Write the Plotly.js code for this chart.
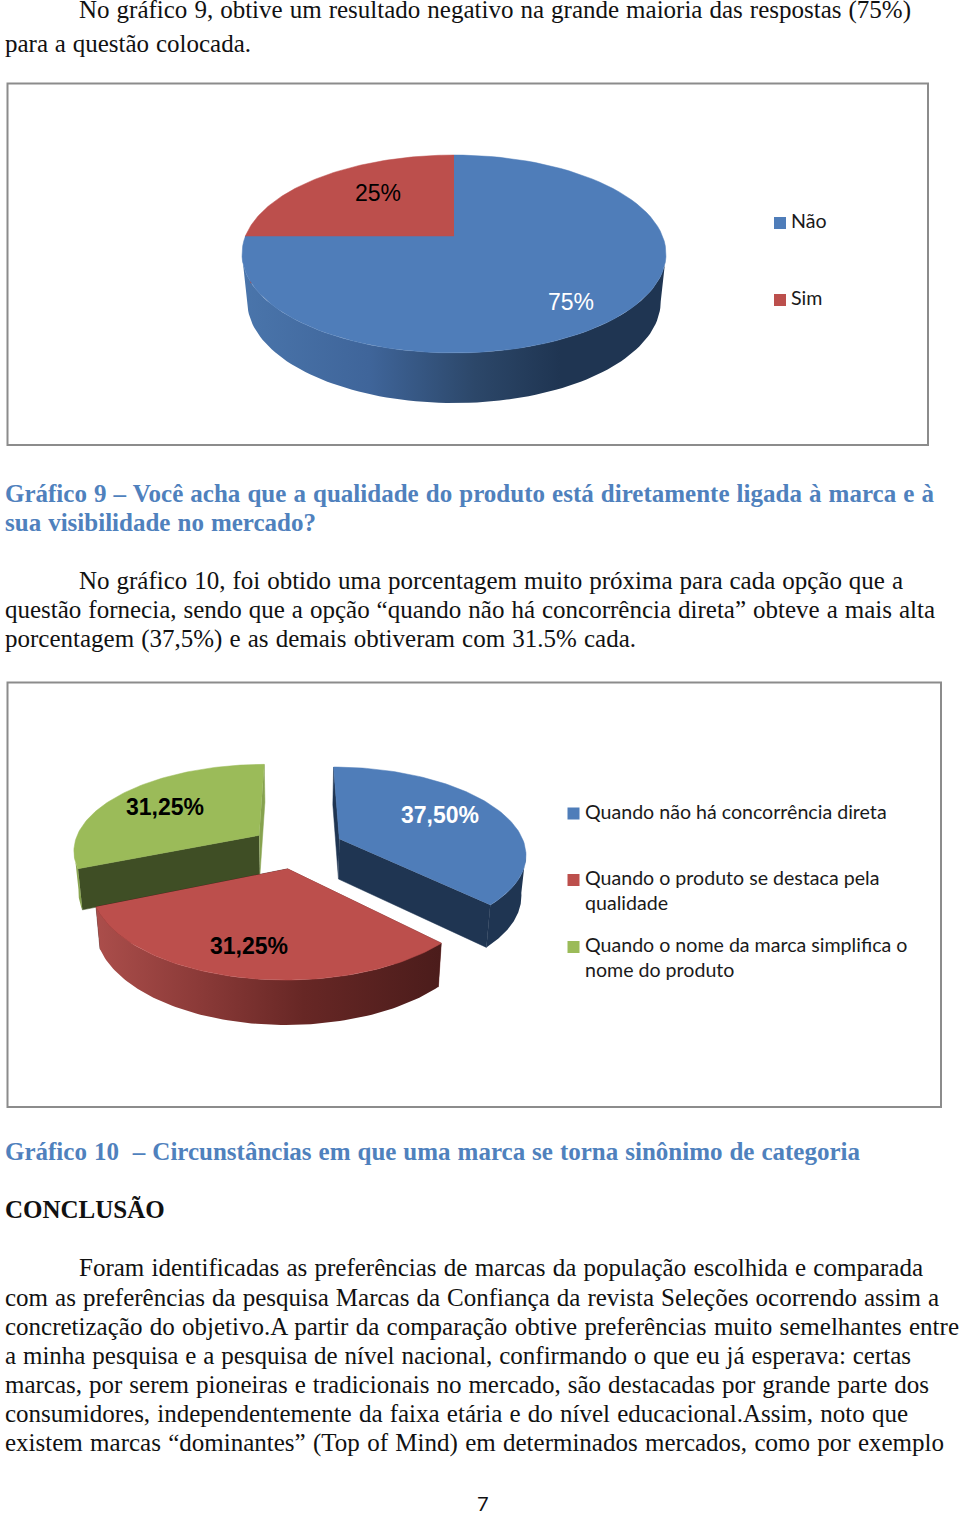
<!DOCTYPE html>
<html lang="pt">
<head>
<meta charset="utf-8">
<title>Gráficos 9 e 10</title>
<script src="https://cdn.plot.ly/plotly-3.0.1.min.js"></script>
<style>
html,body{margin:0;padding:0;background:#fff;width:960px;height:1514px;overflow:hidden}
#page{position:relative;width:960px;height:1514px}
.ln{position:absolute;white-space:pre;font-family:"Liberation Serif",serif;font-size:25px;line-height:20px;height:20px;color:#111}
.cap{font-weight:bold;color:#4f81bd}
.hd{font-weight:bold;color:#111}
.pn{font-family:Lato,sans-serif;font-size:20px;color:#111}
.plot{position:absolute}
</style>
</head>
<body>
<div id="page">
  <div id="chart9" class="plot"></div>
  <div id="chart10" class="plot"></div>
</div>
<script>
// ---- chart data ----
const chart9Labels = ['Não', 'Sim'];
const chart9Values = [75, 25];
const chart10Labels = [
  'Quando não há concorrência direta',
  'Quando o produto se destaca pela<br>qualidade',
  'Quando o nome da marca simplifica o<br>nome do produto'
];
const chart10Values = [37.5, 31.25, 31.25];
const blue = '#4f7db9', red = '#bc4f4c', green = '#9bbb59';

// ---- page text: [text, left, right, middle y, class] ----
const lines = [
  ['No gráfico 9, obtive um resultado negativo na grande maioria das respostas (75%)',79,911,10,''],
  ['para a questão colocada.',5,251,44,''],
  ['Gráfico 9 – Você acha que a qualidade do produto está diretamente ligada à marca e à',5,934,494,'cap'],
  ['sua visibilidade no mercado?',5,316,523,'cap'],
  ['No gráfico 10, foi obtido uma porcentagem muito próxima para cada opção que a',79,903,581,''],
  ['questão fornecia, sendo que a opção “quando não há concorrência direta” obteve a mais alta',5,935,610,''],
  ['porcentagem (37,5%) e as demais obtiveram com 31.5% cada.',5,636,639,''],
  ['Gráfico 10  – Circunstâncias em que uma marca se torna sinônimo de categoria',5,860,1152,'cap'],
  ['CONCLUSÃO',5,165,1210,'hd'],
  ['Foram identificadas as preferências de marcas da população escolhida e comparada',79,923,1268,''],
  ['com as preferências da pesquisa Marcas da Confiança da revista Seleções ocorrendo assim a',5,939,1298,''],
  ['concretização do objetivo.A partir da comparação obtive preferências muito semelhantes entre',5,959,1327,''],
  ['a minha pesquisa e a pesquisa de nível nacional, confirmando o que eu já esperava: certas',5,911,1356,''],
  ['marcas, por serem pioneiras e tradicionais no mercado, são destacadas por grande parte dos',5,929,1385,''],
  ['consumidores, independentemente da faixa etária e do nível educacional.Assim, noto que',5,908,1414,''],
  ['existem marcas “dominantes” (Top of Mind) em determinados mercados, como por exemplo',5,944,1443,'']
];
const page = document.getElementById('page');
lines.forEach(function (l) {
  const d = document.createElement('div');
  d.className = 'ln ' + l[4];
  d.textContent = l[0];
  d.style.left = l[1] + 'px';
  d.style.top = (l[3] - 10) + 'px';
  page.appendChild(d);
  const w = d.getBoundingClientRect().width;
  const gaps = (l[0].match(/ /g) || []).length;
  if (gaps) d.style.wordSpacing = ((l[2] - l[1] - w) / gaps) + 'px';
});
const pn = document.createElement('div');
pn.className = 'ln pn'; pn.textContent = '7';
pn.style.left = '477px'; pn.style.top = '1493px';
page.appendChild(pn);

// ---- 3D pie built from the values, drawn as filled scatter traces ----
function pieTraces(values, labels, o) {
  const total = values.reduce(function (a, b) { return a + b; }, 0);
  const P = function (U, V, low) {
    const den = 1 - o.p * V;
    const X = o.R * U / den, Y = o.k * V / den;
    if (!low) return [o.cx + X, o.cy + Y];
    return [o.cx + X * o.sx, o.cy + Y + o.d0 + o.dc * Y];
  };
  const walls = [], tops = [];
  const visFrom = Math.acos(-o.p), visTo = 2 * Math.PI - visFrom;
  let acc = 0;
  const slices = values.map(function (v, i) {
    const a0 = acc / total * 2 * Math.PI; acc += v;
    const a1 = acc / total * 2 * Math.PI;
    const mid = (a0 + a1) / 2;
    return { i: i, a0: a0, a1: a1, ou: o.explode * Math.sin(mid), ov: -o.explode * Math.cos(mid) };
  });
  const arc = function (s, from, to, low) {
    const out = [], n = 90;
    for (let j = 0; j <= n; j++) {
      const t = from + (to - from) * j / n;
      out.push(P(s.ou + Math.sin(t), s.ov - Math.cos(t), low));
    }
    return out;
  };
  const poly = function (pts, extra, name) {
    return Object.assign({
      type: 'scatter', mode: 'lines', x: pts.map(function (q) { return q[0]; }),
      y: pts.map(function (q) { return q[1]; }), fill: 'toself', line: { width: 0 },
      showlegend: false, hoverinfo: 'skip', name: name
    }, extra);
  };
  o.order.forEach(function (i) {
    const s = slices[i], st = o.styles[i];
    const name = labels[i].replace('<br>', ' ');
    const apexT = P(s.ou, s.ov, false), apexB = P(s.ou, s.ov, true);
    const tA = arc(s, s.a0, s.a1, false), bA = arc(s, s.a0, s.a1, true);
    // flat cut faces first, curved side over them
    walls.push(poly([apexT, tA[0], bA[0], apexB], { fillcolor: st.start, line: { width: 0.5, color: st.start } }, name));
    walls.push(poly([apexT, tA[90], bA[90], apexB], { fillcolor: st.end, line: { width: 0.5, color: st.end } }, name));
    const from = Math.max(s.a0, visFrom), to = Math.min(s.a1, visTo);
    if (to > from) {
      const up = arc(s, from, to, false), lo = arc(s, from, to, true).reverse();
      walls.push(poly(up.concat(lo), {
        fillcolor: st.grad[0][1],
        fillgradient: { type: 'horizontal', colorscale: st.grad }
      }, name + ' (lateral)'));
    }
    tops.push(poly([apexT].concat(tA), {
      fillcolor: st.top, line: { width: 0.5, color: st.top },
      hoverinfo: 'text', text: name + ': ' + values[i] + '%', hoveron: 'fills'
    }, name));
  });
  return walls.concat(tops);
}

function legendTrace(xs, ys, colors, size) {
  return { type: 'scatter', mode: 'markers', x: xs, y: ys, showlegend: false, hoverinfo: 'skip',
    marker: { symbol: 'square', size: size, color: colors, line: { width: 0 } } };
}

function render(id, box, traces, annotations) {
  const el = document.getElementById(id);
  const w = box.x1 - box.x0, h = box.y1 - box.y0;
  el.style.left = box.x0 + 'px'; el.style.top = box.y0 + 'px';
  el.style.width = w + 'px'; el.style.height = h + 'px';
  const hid = { visible: false, fixedrange: true };
  Plotly.newPlot(el, traces, {
    width: w, height: h, margin: { l: 0, r: 0, t: 0, b: 0 },
    paper_bgcolor: '#fff', plot_bgcolor: '#fff', showlegend: false, hovermode: 'closest',
    xaxis: Object.assign({ range: [box.x0, box.x1] }, hid),
    yaxis: Object.assign({ range: [box.y1, box.y0] }, hid),
    shapes: [{ type: 'rect', xref: 'x', yref: 'y', x0: box.fx0, x1: box.fx1, y0: box.fy0, y1: box.fy1,
      line: { color: '#8c8c8c', width: 2 }, fillcolor: 'rgba(0,0,0,0)' }],
    annotations: annotations
  }, { displayModeBar: false, responsive: false });
}

const sansLabel = 'Liberation Sans, Arial, sans-serif';
const legendFont = { family: 'Lato, sans-serif', size: 19.6, color: '#1a1a1a' };
const note = function (x, y, text, font, anchor) {
  return { xref: 'x', yref: 'y', x: x, y: y, text: text, showarrow: false, font: font,
    xanchor: anchor || 'center', yanchor: 'middle', align: 'left', borderpad: 0 };
};
const legendNote = function (x, y, text) {
  return { xref: 'x', yref: 'y', x: x, y: y, text: text, showarrow: false, font: legendFont,
    xanchor: 'left', yanchor: 'top', align: 'left', borderpad: 0 };
};

// ---- Gráfico 9 ----
const blueWall = [[0, '#4a75ab'], [0.3, '#3f659a'], [0.55, '#2c4769'], [0.75, '#1f3552'], [1, '#1f3552']];
const redWall9 = [[0, '#a84c49'], [1, '#5a2220']];
render('chart9', { x0: 0, x1: 960, y0: 75, y1: 455, fx0: 7.5, fx1: 928, fy0: 83.5, fy1: 445 },
  pieTraces(chart9Values, chart9Labels, {
    cx: 454, cy: 236, R: 208.5, k: 95.7, p: 0.1818, explode: 0, sx: 0.975, d0: 47, dc: 0.026,
    order: [0, 1],
    styles: [
      { top: blue, grad: blueWall, start: blue, end: blue },
      { top: red, grad: redWall9, start: red, end: red }
    ]
  }).concat([legendTrace([780, 780], [223, 300], [blue, red], 12)]),
  [
    note(378, 193, chart9Values[1] + '%', { family: sansLabel, size: 23, color: '#000' }),
    note(571, 302, chart9Values[0] + '%', { family: sansLabel, size: 23, color: '#fff' }),
    legendNote(790, 208, chart9Labels[0]),
    legendNote(790, 285, chart9Labels[1])
  ]);

// ---- Gráfico 10 ----
const fmt = function (v) { return v.toFixed(2).replace('.', ',') + '%'; };
const blueDark = '#1f3552', greenDark = '#3f4e25';
const redWall10 = [[0, '#ab4e4b'], [0.3, '#8b3a38'], [0.6, '#672725'], [1, '#4b1c1b']];
render('chart10', { x0: 0, x1: 960, y0: 675, y1: 1114, fx0: 7.5, fx1: 941, fy0: 682.5, fy1: 1107 },
  pieTraces(chart10Values, chart10Labels, {
    cx: 297, cy: 847, R: 186, k: 85.7, p: 0.159, explode: 0.25, sx: 0.98, d0: 40.4, dc: 0.034,
    order: [2, 0, 1],
    styles: [
      { top: blue, grad: [[0, blueDark], [1, blueDark]], start: blueDark, end: blueDark },
      { top: red, grad: redWall10, start: '#672725', end: '#4b1c1b' },
      { top: green, grad: [[0, '#90ab57'], [1, '#86a24e']], start: greenDark, end: '#86a24e' }
    ]
  }).concat([legendTrace([573.5, 573.5, 573.5], [813.5, 880, 947], [blue, red, green], 12)]),
  [
    note(440, 815, fmt(chart10Values[0]), { family: sansLabel, size: 23, color: '#fff', weight: 'bold' }),
    note(249, 946, fmt(chart10Values[1]), { family: sansLabel, size: 23, color: '#000', weight: 'bold' }),
    note(165, 807, fmt(chart10Values[2]), { family: sansLabel, size: 23, color: '#000', weight: 'bold' }),
    legendNote(584, 799, chart10Labels[0]),
    legendNote(584, 865, chart10Labels[1]),
    legendNote(584, 932, chart10Labels[2])
  ]);
</script>
</body>
</html>
